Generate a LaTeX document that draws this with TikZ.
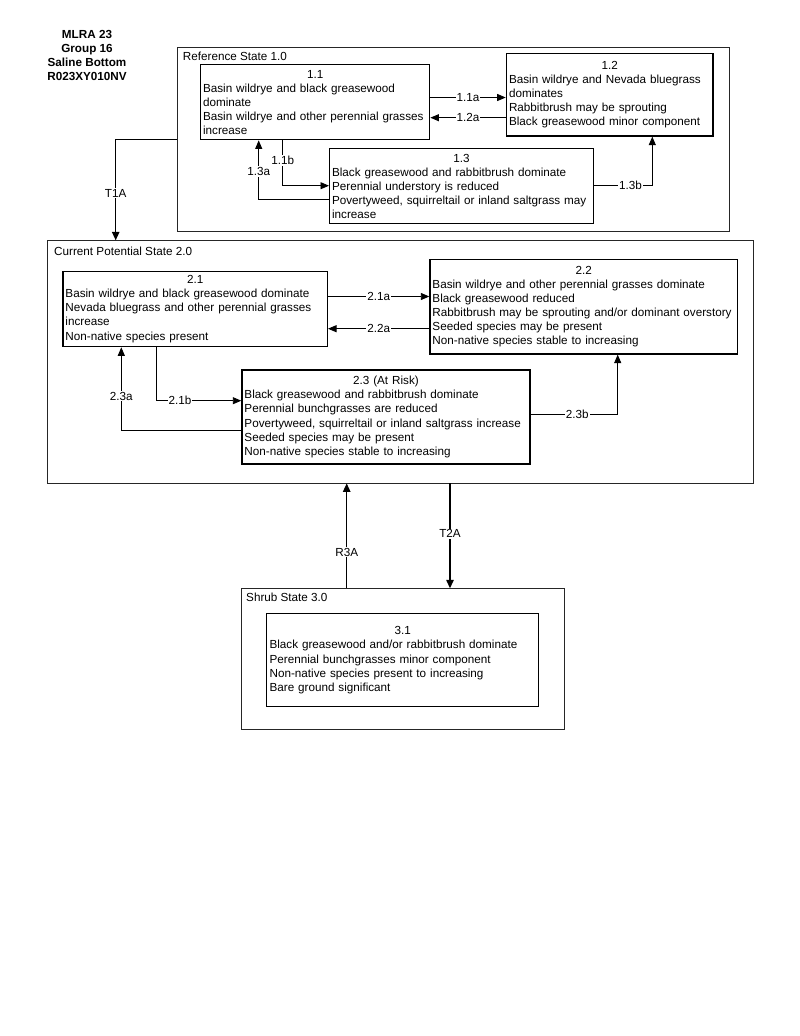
\documentclass[tikz,border=0pt]{standalone}
\usepackage{fontspec}
\setmainfont{Liberation Sans}
\usetikzlibrary{arrows.meta}
\begin{document}
\begin{tikzpicture}[x=1pt,y=-1pt,
  every node/.style={font=\fontsize{11.7}{14.1}\selectfont},
  outer/.style={draw=black!85, line width=0.9pt, anchor=north west, inner sep=0pt},
  ibox/.style={draw=black, line width=1.1pt, anchor=north west, inner xsep=2.5pt, inner ysep=0pt, align=left},
  statelbl/.style={anchor=west, inner sep=0pt},
  conn/.style={draw=black, line width=0.9pt, -{Triangle[length=8.5pt,width=7pt]}},
  tconn/.style={draw=black, line width=1.3pt, -{Triangle[length=8.5pt,width=7.5pt]}},
  lbl/.style={fill=white, inner sep=1pt}]
\useasboundingbox (0,0) rectangle (800,1036);

% title
\node[align=center, font=\fontsize{11.7}{14.2}\selectfont\bfseries] (title) at (87,55.3)
  {MLRA 23\\Group 16\\Saline Bottom\\R023XY010NV};

% state containers
\node[outer, minimum width=552.6pt, minimum height=184pt] (n10) at (176.7,46.7) {};
\node[statelbl] (l10) at (182.7,56.7) {Reference State 1.0};
\node[outer, minimum width=706pt, minimum height=242.2pt] (n20) at (46.7,240.3) {};
\node[statelbl] (l20) at (54,251.7) {Current Potential State 2.0};
\node[outer, minimum width=323.3pt, minimum height=140.7pt] (n30) at (241,588.3) {};
\node[statelbl] (l30) at (246,597.7) {Shrub State 3.0};

% community phases
\node[ibox, text width=224.3pt, minimum height=75pt] (n11) at (200,64.3)
  {\makebox[\hsize]{1.1}\\Basin wildrye and black greasewood\\dominate\\Basin wildrye and other perennial grasses\\increase};
\node[ibox, line width=1.6pt, text width=201.6pt, minimum height=82.3pt] (n12) at (505.7,52.7)
  {\makebox[\hsize]{1.2}\\Basin wildrye and Nevada bluegrass\\dominates\\Rabbitbrush may be sprouting\\Black greasewood minor component};
\node[ibox, text width=258.7pt, minimum height=75pt] (n13) at (329,148.3)
  {\makebox[\hsize]{1.3}\\Black greasewood and rabbitbrush dominate\\Perennial understory is reduced\\Povertyweed, squirreltail or inland saltgrass may\\increase};

\node[ibox, line width=1.3pt, text width=259.4pt, minimum height=75.3pt] (n21) at (62.3,270.7)
  {\makebox[\hsize]{2.1}\\Basin wildrye and black greasewood dominate\\Nevada bluegrass and other perennial grasses\\increase\\Non-native species present};
\node[ibox, line width=1.3pt, text width=302.4pt, minimum height=94.3pt] (n22) at (429.3,259)
  {\makebox[\hsize]{2.2}\\Basin wildrye and other perennial grasses dominate\\Black greasewood reduced\\Rabbitbrush may be sprouting and/or dominant overstory\\Seeded species may be present\\Non-native species stable to increasing};
\node[ibox, line width=1.3pt, text width=283pt, minimum height=94pt] (n23) at (241.3,369.3)
  {\makebox[\hsize]{2.3 (At Risk)}\\Black greasewood and rabbitbrush dominate\\Perennial bunchgrasses are reduced\\Povertyweed, squirreltail or inland saltgrass increase\\Seeded species may be present\\Non-native species stable to increasing};

\node[ibox, text width=266.3pt, inner xsep=3pt, minimum height=92.7pt] (n31) at (266,613.3)
  {\makebox[\hsize]{3.1}\\Black greasewood and/or rabbitbrush dominate\\Perennial bunchgrasses minor component\\Non-native species present to increasing\\Bare ground significant};

% routing coordinates
\coordinate (y11a) at (0,97.5);
\coordinate (y12a) at (0,117.7);
\coordinate (c11b) at (282.7,185.7);
\coordinate (c13a) at (258.7,199.3);
\coordinate (c13b) at (652.3,185.7);
\coordinate (cT1A) at (115.7,139.3);
\coordinate (y21a) at (0,296.5);
\coordinate (y22a) at (0,328.7);
\coordinate (c21b) at (156.7,400.7);
\coordinate (c23a) at (121.3,430);
\coordinate (c23b) at (617.7,414);
\coordinate (xR3A) at (346.7,0);
\coordinate (xT2A) at (450,0);

% transitions
\draw[conn] (n11.east |- y11a) -- node[lbl]{1.1a} (n12.west |- y11a);
\draw[conn] (n12.west |- y12a) -- node[lbl]{1.2a} (n11.east |- y12a);
\draw[conn] (n11.south -| c11b) |- node[lbl,pos=0.223]{1.1b} (n13.west |- c11b);
\draw[conn] (n13.west |- c13a) -| node[lbl,pos=0.736]{1.3a} (n11.south -| c13a);
\draw[conn] (n13.east |- c13b) -| node[lbl,pos=0.313]{1.3b} (n12.south -| c13b);
\draw[tconn] (n10.west |- cT1A) -| node[lbl,pos=0.766]{T1A} (n20.north -| cT1A);
\draw[conn] (n21.east |- y21a) -- node[lbl]{2.1a} (n22.west |- y21a);
\draw[conn] (n22.west |- y22a) -- node[lbl]{2.2a} (n21.east |- y22a);
\draw[conn] (n21.south -| c21b) |- node[lbl,pos=0.638]{2.1b} (n23.west |- c21b);
\draw[conn] (n23.west |- c23a) -| node[lbl,pos=0.704]{2.3a} (n21.south -| c23a);
\draw[conn] (n23.east |- c23b) -| node[lbl,pos=0.268]{2.3b} (n22.south -| c23b);
\draw[tconn] (n30.north -| xR3A) -- node[lbl,pos=0.346]{R3A} (n20.south -| xR3A);
\draw[tconn] (n20.south -| xT2A) -- node[lbl,pos=0.48]{T2A} (n30.north -| xT2A);
\end{tikzpicture}
\end{document}
